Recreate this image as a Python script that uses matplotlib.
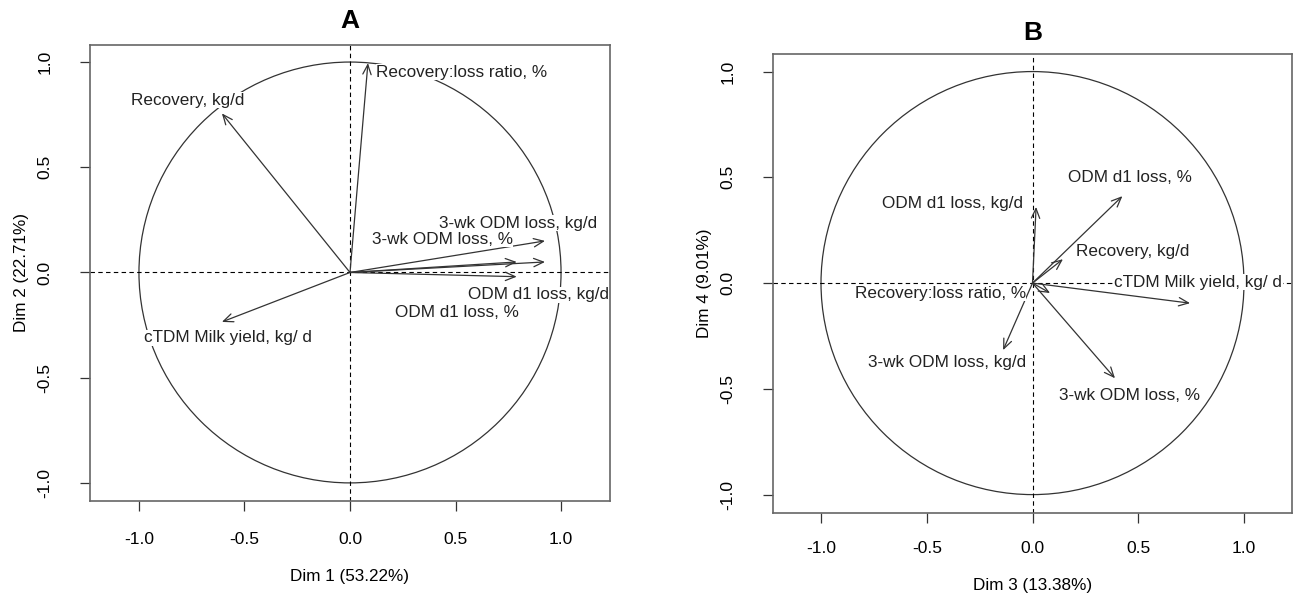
import matplotlib
matplotlib.use("Agg")
import matplotlib.pyplot as plt
from matplotlib.patches import Circle

plt.rcParams['font.family'] = ['Liberation Sans', 'DejaVu Sans']

# panel A: Dim 1 vs Dim 2
var_a = ["Recovery:loss ratio, %", "Recovery, kg/d", "cTDM Milk yield, kg/ d",
         "3-wk ODM loss, kg/d", "3-wk ODM loss, %", "ODM d1 loss, kg/d", "ODM d1 loss, %"]
dim1 = [0.085, -0.607, -0.607, 0.924, 0.79, 0.924, 0.79]
dim2 = [0.995, 0.756, -0.235, 0.15, 0.05, 0.05, -0.02]

# panel B: Dim 3 vs Dim 4
var_b = ["ODM d1 loss, %", "ODM d1 loss, kg/d", "Recovery, kg/d", "cTDM Milk yield, kg/ d",
         "Recovery:loss ratio, %", "3-wk ODM loss, kg/d", "3-wk ODM loss, %"]
dim3 = [0.425, 0.017, 0.144, 0.745, 0.083, -0.139, 0.39]
dim4 = [0.411, 0.36, 0.113, -0.095, -0.047, -0.317, -0.45]

ticks = [-1.0, -0.5, 0.0, 0.5, 1.0]

# where the labels sit (data coords)
lab_a = [(0.53, 0.952), (-0.768, 0.819), (-0.578, -0.311), (0.796, 0.235),
         (0.436, 0.159), (0.891, -0.107), (0.507, -0.192)]
lab_b = [(0.461, 0.501), (-0.376, 0.378), (0.475, 0.147), (0.782, 0.005),
         (-0.437, -0.047), (-0.404, -0.374), (0.461, -0.530)]

W, H = 1293, 602
fig = plt.figure(figsize=(W / 100, H / 100), dpi=100)


def px_axes(l, t, r, b):
    return fig.add_axes([l / W, 1 - b / H, (r - l) / W, (b - t) / H])


def corr_circle(ax, xs, ys, names, labs, xlim, ylim, title, xlabel, ylabel, tpad, xpad):
    ax.set_xlim(*xlim)
    ax.set_ylim(*ylim)
    ax.add_patch(Circle((0, 0), 1, fill=False, ec="#333333", lw=0.9))
    ax.axhline(0, color="black", ls=(0, (4, 3)), lw=0.8)
    ax.axvline(0, color="black", ls=(0, (4, 3)), lw=0.8)
    for x, y in zip(xs, ys):
        ax.annotate("", xy=(x, y), xytext=(0, 0),
                    arrowprops=dict(arrowstyle="->,head_length=0.7,head_width=0.3",
                                    color="#333333", lw=0.9, shrinkA=0, shrinkB=0))
    for name, (lx, ly) in zip(names, labs):
        ax.text(lx, ly, name, ha="center", va="center", fontsize=12.3, color="#222222",
                bbox=dict(facecolor="white", edgecolor="none", pad=0.5))
    ax.set_xticks(ticks)
    ax.set_yticks(ticks)
    ax.set_xticklabels([f"{t:.1f}" for t in ticks])
    ax.set_yticklabels([f"{t:.1f}" for t in ticks], rotation=90, va="center")
    ax.tick_params(labelsize=12.5, length=7, width=0.9, color="#333333")
    ax.tick_params(axis="x", pad=xpad)
    ax.tick_params(axis="y", pad=20)
    for s in ax.spines.values():
        s.set_color("#666666")
        s.set_linewidth(1.2)
    ax.set_title(title, fontsize=19, fontweight="bold", pad=tpad)
    ax.set_xlabel(xlabel, fontsize=12.3, labelpad=16)
    ax.set_ylabel(ylabel, fontsize=12.3, labelpad=6)


ax_a = px_axes(90, 45, 610, 501)
corr_circle(ax_a, dim1, dim2, var_a, lab_a, (-1.232, 1.232), (-1.086, 1.081),
            "A", "Dim 1 (53.22%)", "Dim 2 (22.71%)", 12, 15)

ax_b = px_axes(773, 54, 1292, 513)
corr_circle(ax_b, dim3, dim4, var_b, lab_b, (-1.227, 1.227), (-1.087, 1.083),
            "B", "Dim 3 (13.38%)", "Dim 4 (9.01%)", 10, 13)

fig.savefig("out.png", dpi=100, facecolor="white")
